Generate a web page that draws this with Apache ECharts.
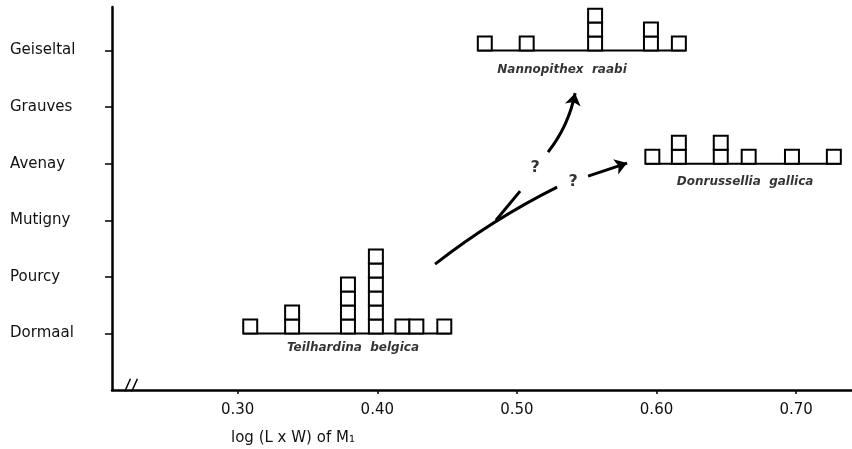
<!DOCTYPE html>
<html>
<head>
<meta charset="utf-8">
<script src="https://cdn.jsdelivr.net/npm/echarts@6/dist/echarts.min.js"></script>
<style>
  html, body { margin: 0; padding: 0; background: #fff; }
  #chart { width: 852px; height: 449px; }
</style>
</head>
<body>
<div id="chart"></div>
<script>
// sites, bottom to top (y = 1..6)
var sites = ['Dormaal', 'Pourcy', 'Mutigny', 'Avenay', 'Grauves', 'Geiseltal'];
var xTicks = [0.30, 0.40, 0.50, 0.60, 0.70];

// histogram bins (centre of log(LxW) class) and number of specimens
var teilhardinaBins = [0.309, 0.339, 0.379, 0.399, 0.418, 0.428, 0.448];
var teilhardinaCounts = [1, 2, 4, 6, 1, 1, 1];
var nannopithexBins = [0.477, 0.507, 0.556, 0.596, 0.616];
var nannopithexCounts = [1, 1, 3, 2, 1];
var donrusselliaBins = [0.597, 0.616, 0.646, 0.666, 0.697, 0.727];
var donrusselliaCounts = [1, 2, 2, 1, 1, 1];

var BIN = 0.01;     // class width
var BOX_H = 0.247;  // one specimen, in site units

var species = [
  { name: 'Teilhardina  belgica', site: 'Dormaal', bins: teilhardinaBins, counts: teilhardinaCounts, label: [0.3826, 0.74] },
  { name: 'Nannopithex  raabi', site: 'Geiseltal', bins: nannopithexBins, counts: nannopithexCounts, label: [0.5323, 5.65] },
  { name: 'Donrussellia  gallica', site: 'Avenay', bins: donrusselliaBins, counts: donrusselliaCounts, label: [0.6634, 3.675] }
];

// arrows / question marks drawn between the groups
var arrowPaths = [
  { coords: [[0.5223, 4.205], [0.5417, 5.247]], curve: -0.12 },
  { coords: [[0.5510, 3.781], [0.5789, 4.011]], curve: 0 }
];
var stems = [
  { coords: [[0.4414, 2.226], [0.5288, 3.587]], curve: 0.05 },
  { coords: [[0.4850, 3.000], [0.5023, 3.516]], curve: 0 },
  // axis break "//"
  { coords: [[0.2160, -0.2], [0.2232, 0.2]], curve: 0, w: 1.5 },
  { coords: [[0.2210, -0.2], [0.2282, 0.2]], curve: 0, w: 1.5 }
];
var queries = [[0.513, 3.92], [0.5402, 3.675]];

var FONT = 'DejaVu Sans';

function renderBoxes(params, api) {
  var x = api.value(0), n = api.value(1), base = api.value(2);
  var children = [];
  for (var k = 0; k < n; k++) {
    var p0 = api.coord([x - BIN / 2, base + (k + 1) * BOX_H]);
    var p1 = api.coord([x + BIN / 2, base + k * BOX_H]);
    children.push({
      type: 'rect',
      shape: { x: p0[0], y: p0[1], width: p1[0] - p0[0], height: p1[1] - p0[1] },
      style: { fill: '#fff', stroke: '#000', lineWidth: 2 }
    });
  }
  return { type: 'group', children: children };
}

var series = [];
species.forEach(function (sp) {
  var base = sites.indexOf(sp.site) + 1;
  series.push({
    type: 'line',
    data: [[sp.bins[0] - BIN / 2, base], [sp.bins[sp.bins.length - 1] + BIN / 2, base]],
    symbol: 'none',
    lineStyle: { color: '#000', width: 2 },
    z: 2
  });
  series.push({
    type: 'custom',
    renderItem: renderBoxes,
    data: sp.bins.map(function (b, i) { return [b, sp.counts[i], base]; }),
    z: 3
  });
  series.push({
    type: 'scatter',
    data: [sp.label],
    symbolSize: 0,
    label: {
      show: true, position: 'inside', formatter: sp.name,
      fontFamily: FONT, fontSize: 12, fontStyle: 'italic', fontWeight: 'bold', color: '#000'
    }
  });
});

series.push({
  type: 'lines',
  coordinateSystem: 'cartesian2d',
  symbol: ['none', 'arrow'],
  symbolSize: [10, 12],
  lineStyle: { color: '#000', width: 3, opacity: 1 },
  data: arrowPaths.map(function (a) { return { coords: a.coords, lineStyle: { curveness: a.curve } }; }),
  z: 4
});
series.push({
  type: 'lines',
  coordinateSystem: 'cartesian2d',
  symbol: 'none',
  lineStyle: { color: '#000', width: 3, opacity: 1 },
  data: stems.map(function (a) { return { coords: a.coords, lineStyle: { curveness: a.curve, width: a.w || 3 } }; }),
  z: 4
});
series.push({
  type: 'scatter',
  data: queries,
  symbolSize: 0,
  label: { show: true, position: 'inside', formatter: '?', fontFamily: FONT, fontSize: 16, fontWeight: 'bold', color: '#000' }
});

var myChart = echarts.init(document.getElementById('chart'));
myChart.setOption({
  animation: false,
  backgroundColor: '#fff',
  title: {
    text: 'log (L x W) of M\u2081',
    left: 226, top: 426,
    textStyle: { fontFamily: FONT, fontSize: 15, fontWeight: 'normal', color: '#111' }
  },
  grid: { left: 112, right: 0, top: 7, bottom: 59, containLabel: false },
  xAxis: {
    type: 'value', min: 0.21, max: 0.74,
    axisLine: { lineStyle: { color: '#000', width: 2.5 } },
    axisTick: { customValues: xTicks, length: 4, lineStyle: { color: '#000', width: 1.5 } },
    axisLabel: {
      customValues: xTicks, margin: 13,
      formatter: function (v) { return v.toFixed(2); },
      fontFamily: FONT, fontSize: 15, color: '#111'
    },
    splitLine: { show: false }
  },
  yAxis: {
    type: 'value', min: 0, max: 6.77,
    axisLine: { show: true, lineStyle: { color: '#000', width: 2.5 } },
    axisTick: { show: true, customValues: [1, 2, 3, 4, 5, 6], length: 7, lineStyle: { color: '#000', width: 1.5 } },
    axisLabel: {
      customValues: [1, 2, 3, 4, 5, 6], margin: 102, align: 'left',
      formatter: function (v) { return sites[Math.round(v) - 1]; },
      fontFamily: FONT, fontSize: 15, color: '#111'
    },
    splitLine: { show: false }
  },
  series: series
});
</script>
</body>
</html>
